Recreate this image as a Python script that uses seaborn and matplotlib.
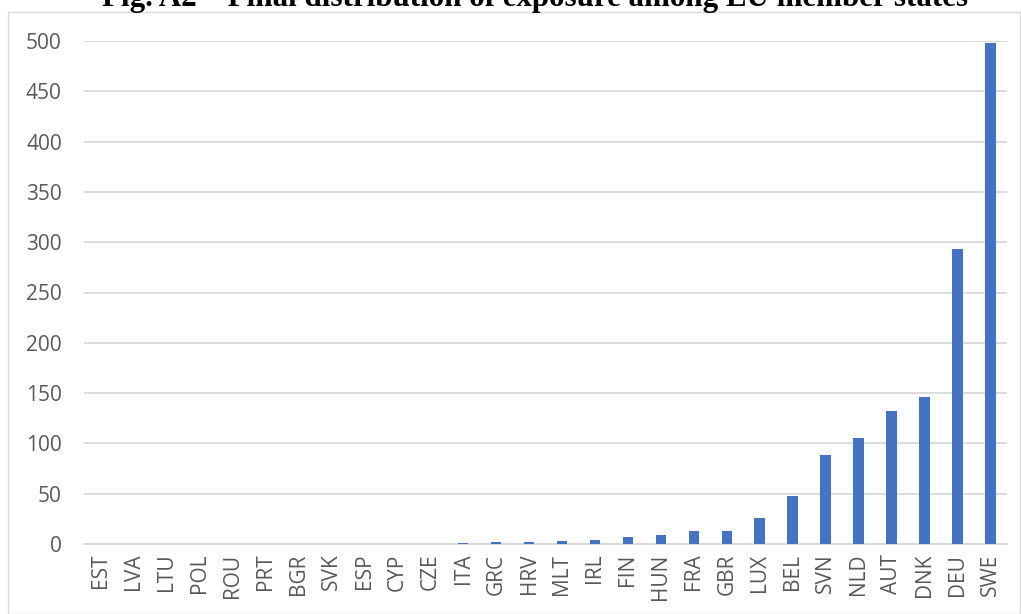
import matplotlib
matplotlib.use("Agg")
import matplotlib.pyplot as plt
from matplotlib.patches import Rectangle
import seaborn as sns
import pandas as pd

countries = ["EST", "LVA", "LTU", "POL", "ROU", "PRT", "BGR", "SVK", "ESP", "CYP",
             "CZE", "ITA", "GRC", "HRV", "MLT", "IRL", "FIN", "HUN", "FRA", "GBR",
             "LUX", "BEL", "SVN", "NLD", "AUT", "DNK", "DEU", "SWE"]
exposure = [0.05, 0.1, 0.1, 0.1, 0.1, 0.15, 0.15, 0.15, 0.2, 0.2,
            0.3, 0.5, 1.5, 2.0, 3.0, 3.5, 6.5, 8.5, 13, 13,
            26, 48, 88, 105, 132, 146, 293, 498]
y_ticks = [0, 50, 100, 150, 200, 250, 300, 350, 400, 450, 500]
title = "Fig. A2 – Final distribution of exposure among EU member states"

df = pd.DataFrame({"country": countries, "exposure": exposure})

W, H = 1021, 614
fig = plt.figure(figsize=(W / 100, H / 100), dpi=100)
ax = fig.add_axes([84 / W, 1 - 544 / H, (1007 - 84) / W, (544 - 41) / H])

sns.barplot(data=df, x="country", y="exposure", order=countries,
            color="#4472C4", saturation=1, width=0.32, ax=ax, zorder=3)

ax.set_ylim(0, 500)
ax.set_xlim(-0.5, len(countries) - 0.5)
ax.set_yticks(y_ticks)
ax.set_xlabel("")
ax.set_ylabel("")
ax.grid(axis="y", color="#D9D9D9", linewidth=1.3, zorder=0)
ax.set_axisbelow(True)
for s in ["top", "right", "left"]:
    ax.spines[s].set_visible(False)
ax.spines["bottom"].set_color("#D9D9D9")
ax.spines["bottom"].set_linewidth(1.3)

ax.tick_params(axis="both", length=0, labelcolor="#595959", labelsize=15)
ax.tick_params(axis="y", pad=16)
ax.tick_params(axis="x", pad=7)
for lbl in ax.get_xticklabels():
    lbl.set_rotation(90)
for lbl in ax.get_xticklabels() + ax.get_yticklabels():
    lbl.set_fontfamily("Open Sans")

# chart frame
fig.patches.append(Rectangle((8 / W, 0.5 / H), (W - 9) / W, (H - 12.5) / H,
                             transform=fig.transFigure, fill=False,
                             edgecolor="#D9D9D9", linewidth=1.0))

fig.text(535 / W, 1 - 6 / H, title, ha="center", va="baseline",
         fontsize=22.3, fontweight="bold", family="Liberation Serif")

fig.savefig("out.png", dpi=100)
